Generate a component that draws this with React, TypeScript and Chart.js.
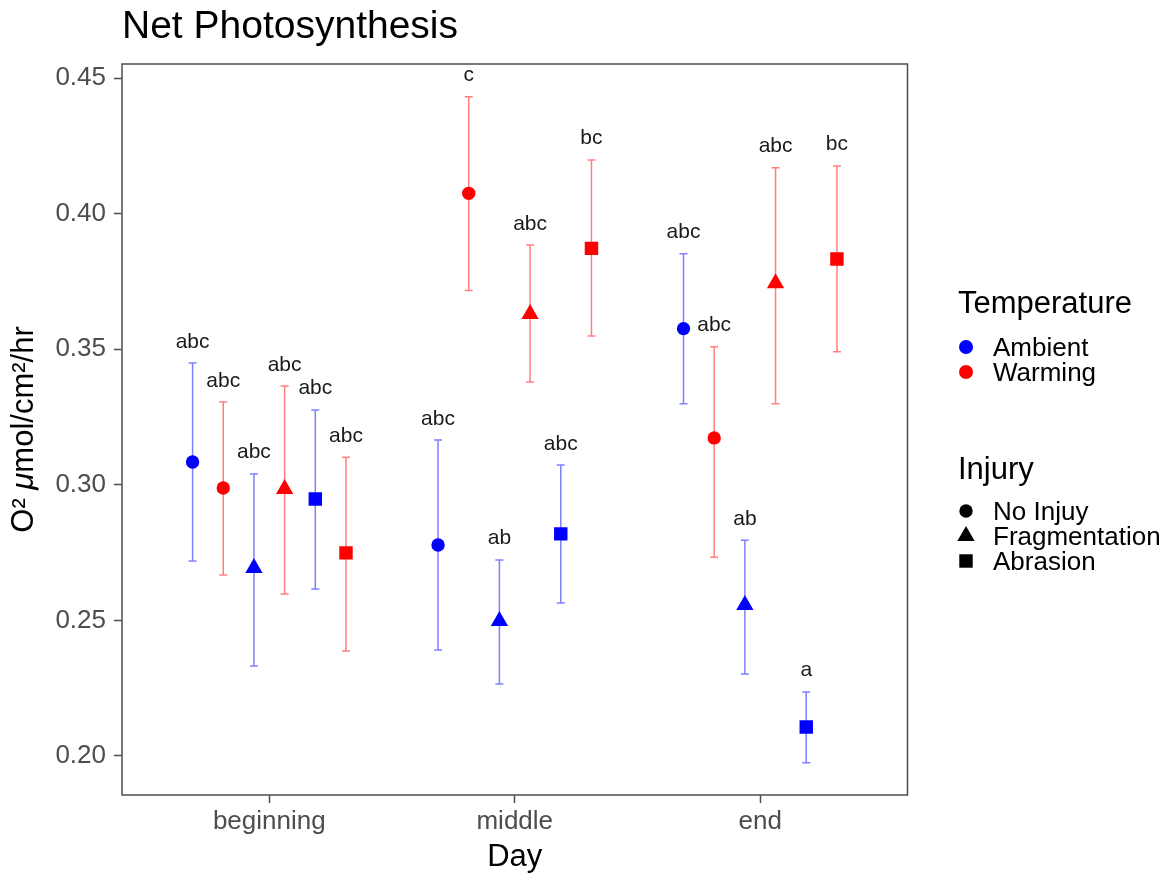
import React, { useEffect, useRef } from 'react';
import { Chart, registerables } from 'chart.js';

Chart.register(...registerables);

// ---------- data ----------
const days = ['beginning', 'middle', 'end'];
const yTickValues = [0.2, 0.25, 0.3, 0.35, 0.4, 0.45];
const temperatureLabels = ['Ambient', 'Warming'];
const temperatureColors = ['#0000FF', '#FF0000'];
const errorBarColors = ['rgba(0,0,255,0.5)', 'rgba(255,0,0,0.5)'];
const injuryLabels = ['No Injuy', 'Fragmentation', 'Abrasion'];

const ambientNoInjuryMean = [0.3084, 0.2778, 0.3576];
const ambientNoInjuryLow = [0.2719, 0.2391, 0.3299];
const ambientNoInjuryHigh = [0.3449, 0.3165, 0.3852];
const ambientNoInjuryLetters = ['abc', 'abc', 'abc'];

const warmingNoInjuryMean = [0.2988, 0.4075, 0.3173];
const warmingNoInjuryLow = [0.2667, 0.3717, 0.2733];
const warmingNoInjuryHigh = [0.3305, 0.4431, 0.3509];
const warmingNoInjuryLetters = ['abc', 'c', 'abc'];

const ambientFragMean = [0.2693, 0.2498, 0.2557];
const ambientFragLow = [0.2332, 0.2265, 0.2302];
const ambientFragHigh = [0.304, 0.2723, 0.2796];
const ambientFragLetters = ['abc', 'ab', 'ab'];

const warmingFragMean = [0.2985, 0.363, 0.3743];
const warmingFragLow = [0.2597, 0.3379, 0.3299];
const warmingFragHigh = [0.3364, 0.3884, 0.4169];
const warmingFragLetters = ['abc', 'abc', 'abc'];

const ambientAbrMean = [0.2948, 0.2819, 0.2107];
const ambientAbrLow = [0.2616, 0.2564, 0.1975];
const ambientAbrHigh = [0.3276, 0.3073, 0.2236];
const ambientAbrLetters = ['abc', 'abc', 'a'];

const warmingAbrMean = [0.2749, 0.3872, 0.3833];
const warmingAbrLow = [0.2387, 0.3549, 0.3491];
const warmingAbrHigh = [0.3102, 0.4198, 0.4176];
const warmingAbrLetters = ['abc', 'bc', 'bc'];

// dodge order within each day
const series = [
  { temp: 0, injury: 0, mean: ambientNoInjuryMean, low: ambientNoInjuryLow, high: ambientNoInjuryHigh, letters: ambientNoInjuryLetters },
  { temp: 1, injury: 0, mean: warmingNoInjuryMean, low: warmingNoInjuryLow, high: warmingNoInjuryHigh, letters: warmingNoInjuryLetters },
  { temp: 0, injury: 1, mean: ambientFragMean, low: ambientFragLow, high: ambientFragHigh, letters: ambientFragLetters },
  { temp: 1, injury: 1, mean: warmingFragMean, low: warmingFragLow, high: warmingFragHigh, letters: warmingFragLetters },
  { temp: 0, injury: 2, mean: ambientAbrMean, low: ambientAbrLow, high: ambientAbrHigh, letters: ambientAbrLetters },
  { temp: 1, injury: 2, mean: warmingAbrMean, low: warmingAbrLow, high: warmingAbrHigh, letters: warmingAbrLetters },
];

const DODGE_WIDTH = 0.75;
const FONT = '"Liberation Sans", Arial, Helvetica, sans-serif';
const injuryStyles = ['circle', 'triangle', 'rect'];
const injuryRadius = [6.7, 10, 9.5];

function dodgeX(dayIndex: number, seriesIndex: number) {
  const n = series.length;
  const step = DODGE_WIDTH / n;
  return dayIndex + 1 + (seriesIndex - (n - 1) / 2) * step;
}

function drawMarker(ctx: CanvasRenderingContext2D, style: string, x: number, y: number, r: number) {
  ctx.beginPath();
  if (style === 'circle') {
    ctx.arc(x, y, r, 0, Math.PI * 2);
  } else if (style === 'triangle') {
    for (let k = 0; k < 3; k++) {
      const a = (k * 2 * Math.PI) / 3;
      const px = x + Math.sin(a) * r;
      const py = y - Math.cos(a) * r;
      if (k === 0) ctx.moveTo(px, py);
      else ctx.lineTo(px, py);
    }
    ctx.closePath();
  } else {
    const s = Math.SQRT1_2 * r;
    ctx.rect(x - s, y - s, 2 * s, 2 * s);
  }
  ctx.fill();
}

const errorBarPlugin = {
  id: 'errorBars',
  beforeDatasetsDraw(chart: any) {
    const { ctx, scales } = chart;
    ctx.save();
    ctx.lineWidth = 1.5;
    series.forEach((s, si) => {
      ctx.strokeStyle = errorBarColors[s.temp];
      s.mean.forEach((_, di) => {
        const x = scales.x.getPixelForValue(dodgeX(di, si));
        const yh = scales.y.getPixelForValue(s.high[di]);
        const yl = scales.y.getPixelForValue(s.low[di]);
        const cap = 4;
        ctx.beginPath();
        ctx.moveTo(x, yh);
        ctx.lineTo(x, yl);
        ctx.moveTo(x - cap, yh);
        ctx.lineTo(x + cap, yh);
        ctx.moveTo(x - cap, yl);
        ctx.lineTo(x + cap, yl);
        ctx.stroke();
      });
    });
    ctx.restore();
  },
  afterDatasetsDraw(chart: any) {
    const { ctx, scales } = chart;
    ctx.save();
    ctx.fillStyle = '#1a1a1a';
    ctx.font = `21px ${FONT}`;
    ctx.textAlign = 'center';
    ctx.textBaseline = 'alphabetic';
    series.forEach((s, si) => {
      s.letters.forEach((txt, di) => {
        const x = scales.x.getPixelForValue(dodgeX(di, si));
        const yh = scales.y.getPixelForValue(s.high[di]);
        ctx.fillText(txt, x, yh - 15.5);
      });
    });
    ctx.restore();
  },
  afterDraw(chart: any) {
    const { ctx, chartArea } = chart;
    ctx.save();
    // panel border
    ctx.strokeStyle = '#4d4d4d';
    ctx.lineWidth = 1.5;
    ctx.strokeRect(chartArea.left, chartArea.top, chartArea.right - chartArea.left, chartArea.bottom - chartArea.top);

    // title
    ctx.fillStyle = '#000';
    ctx.textAlign = 'left';
    ctx.textBaseline = 'alphabetic';
    ctx.font = `39px ${FONT}`;
    ctx.fillText('Net Photosynthesis', 122, 38);

    // y axis title with italic mu
    const cy = (chartArea.top + chartArea.bottom) / 2;
    const parts = [
      { t: 'O² ', f: `31px ${FONT}` },
      { t: 'μ', f: `italic 31px ${FONT}` },
      { t: 'mol/cm²/hr', f: `31px ${FONT}` },
    ];
    let total = 0;
    parts.forEach((p) => { ctx.font = p.f; total += ctx.measureText(p.t).width; });
    ctx.translate(33, cy);
    ctx.rotate(-Math.PI / 2);
    let px = -total / 2;
    parts.forEach((p) => {
      ctx.font = p.f;
      ctx.fillText(p.t, px, 0);
      px += ctx.measureText(p.t).width;
    });
    ctx.setTransform(1, 0, 0, 1, 0, 0);
    const dpr = chart.currentDevicePixelRatio || 1;
    ctx.scale(dpr, dpr);

    // legend: Temperature
    ctx.fillStyle = '#000';
    ctx.font = `31px ${FONT}`;
    ctx.fillText('Temperature', 958, 313);
    const tempY = [347, 372];
    temperatureLabels.forEach((lab, i) => {
      ctx.fillStyle = temperatureColors[i];
      drawMarker(ctx, 'circle', 966, tempY[i], 7);
      ctx.fillStyle = '#000';
      ctx.font = `26px ${FONT}`;
      ctx.fillText(lab, 993, tempY[i] + 9.3);
    });

    // legend: Injury
    ctx.font = `31px ${FONT}`;
    ctx.fillText('Injury', 958, 479);
    const injY = [511, 536, 561];
    injuryLabels.forEach((lab, i) => {
      ctx.fillStyle = '#000';
      drawMarker(ctx, injuryStyles[i], 966, injY[i], injuryRadius[i]);
      ctx.font = `26px ${FONT}`;
      ctx.fillText(lab, 993, injY[i] + 9.3);
    });
    ctx.restore();
  },
};

export default function App() {
  const ref = useRef<HTMLCanvasElement>(null);
  useEffect(() => {
    if (!ref.current) return;
    Chart.defaults.font.family = FONT;
    const datasets = series.map((s, si) => ({
      label: `${temperatureLabels[s.temp]} ${injuryLabels[s.injury]}`,
      data: s.mean.map((v, di) => ({ x: dodgeX(di, si), y: v })),
      pointStyle: injuryStyles[s.injury],
      pointRadius: injuryRadius[s.injury],
      pointBackgroundColor: temperatureColors[s.temp],
      pointBorderWidth: 0,
      borderColor: temperatureColors[s.temp],
      showLine: false,
    }));
    const chart = new Chart(ref.current, {
      type: 'scatter',
      data: { datasets },
      options: {
        animation: false,
        responsive: true,
        maintainAspectRatio: false,
        layout: { padding: { top: 64, right: 263.5, left: 0, bottom: 0 } },
        plugins: { legend: { display: false }, tooltip: { enabled: false }, title: { display: false } },
        scales: {
          x: {
            type: 'linear',
            min: 0.4,
            max: 3.6,
            afterBuildTicks: (s: any) => { s.ticks = days.map((_, i) => ({ value: i + 1 })); },
            afterFit: (s: any) => { s.height = 81; },
            ticks: {
              callback: (v: any) => days[Math.round(Number(v)) - 1] ?? '',
              color: '#4d4d4d',
              font: { size: 26, family: FONT },
              padding: 3,
              maxRotation: 0,
              autoSkip: false,
            },
            grid: { drawOnChartArea: false, drawTicks: true, tickLength: 8, tickColor: '#4d4d4d', tickWidth: 1.5 },
            border: { display: false },
            title: { display: true, text: 'Day', color: '#000', font: { size: 31, family: FONT }, padding: { top: 0, bottom: 0 } },
          },
          y: {
            type: 'linear',
            min: 0.1856,
            max: 0.4552,
            afterBuildTicks: (s: any) => { s.ticks = yTickValues.map((v) => ({ value: v })); },
            afterFit: (s: any) => { s.width = 122; },
            ticks: {
              callback: (v: any) => Number(v).toFixed(2),
              color: '#4d4d4d',
              font: { size: 26, family: FONT },
              padding: 8,
            },
            grid: { drawOnChartArea: false, drawTicks: true, tickLength: 8, tickColor: '#4d4d4d', tickWidth: 1.5 },
            border: { display: false },
          },
        },
      } as any,
      plugins: [errorBarPlugin],
    } as any);
    return () => chart.destroy();
  }, []);
  return (
    <div style={{ position: 'fixed', left: 0, top: 0, width: 1171, height: 876, background: '#fff' }}>
      <canvas ref={ref} />
    </div>
  );
}
